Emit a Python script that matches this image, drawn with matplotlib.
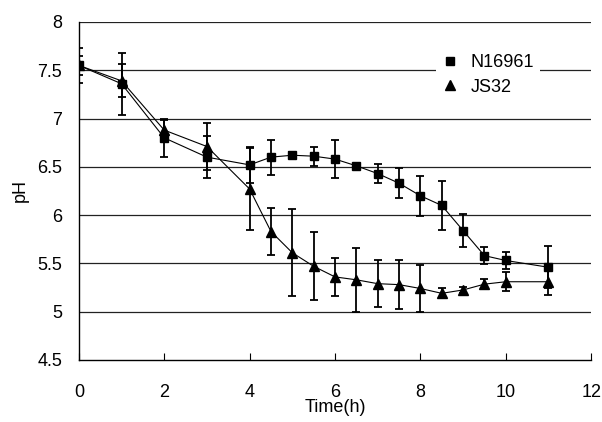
import matplotlib.pyplot as plt
from matplotlib.lines import Line2D

plt.rcParams['font.family'] = ['Liberation Sans', 'DejaVu Sans']

# data
time = [0, 1, 2, 3, 4, 4.5, 5, 5.5, 6, 6.5, 7, 7.5, 8, 8.5, 9, 9.5, 10, 11]
n16961 = [7.55, 7.36, 6.80, 6.60, 6.52, 6.60, 6.62, 6.61, 6.58, 6.51, 6.43, 6.33,
          6.20, 6.10, 5.84, 5.58, 5.53, 5.46]
n16961_err = [0.18, 0.32, 0.20, 0.22, 0.19, 0.18, 0.03, 0.10, 0.20, 0.02, 0.10, 0.155,
              0.21, 0.25, 0.17, 0.085, 0.09, 0.22]
js32 = [7.55, 7.39, 6.88, 6.71, 6.27, 5.83, 5.61, 5.47, 5.36, 5.33, 5.29, 5.28,
        5.24, 5.19, 5.225, 5.285, 5.31, 5.31]
js32_err = [0.10, 0.17, 0.10, 0.245, 0.42, 0.24, 0.45, 0.35, 0.20, 0.33, 0.24, 0.25,
            0.24, 0.05, 0.03, 0.05, 0.10, 0.14]

fig = plt.figure(figsize=(6.02, 4.22), dpi=100)
ax = fig.add_axes([0.131, 0.147, 0.851, 0.801])

# horizontal grid
for yv in [5, 5.5, 6, 6.5, 7, 7.5, 8]:
    ax.axhline(yv, color='#222222', lw=0.9, zorder=1)

ax.errorbar(time, n16961, yerr=n16961_err, color='black', lw=0.8, marker='s', ms=5.5,
            elinewidth=1.3, capsize=3, capthick=1.3, zorder=3)
ax.errorbar(time, js32, yerr=js32_err, color='black', lw=0.8, marker='^', ms=6.5,
            elinewidth=1.3, capsize=3, capthick=1.3, zorder=3)

ax.set_xlim(0, 12)
ax.set_ylim(4.5, 8)
ax.set_xticks(range(0, 13, 2))
ax.set_yticks([4.5, 5, 5.5, 6, 6.5, 7, 7.5, 8])
ax.set_yticklabels(['4.5', '5', '5.5', '6', '6.5', '7', '7.5', '8'])
ax.tick_params(axis='x', direction='in', length=5, width=0.8, pad=17, labelsize=13)
ax.tick_params(axis='y', length=0, pad=12, labelsize=13)

for s in ['top', 'right']:
    ax.spines[s].set_visible(False)
for s in ['left', 'bottom']:
    ax.spines[s].set_linewidth(1.0)

ax.set_xlabel('Time(h)', fontsize=13, labelpad=-1)
ax.set_ylabel('pH', fontsize=13, labelpad=6)

handles = [Line2D([], [], color='black', marker='s', ls='none', ms=5.5),
           Line2D([], [], color='black', marker='^', ls='none', ms=6.5)]
leg = ax.legend(handles, ['N16961', 'JS32'], loc='upper left',
                bbox_to_anchor=(0.679, 0.947), frameon=True, fancybox=False,
                edgecolor='none', facecolor='white', framealpha=1,
                fontsize=13, handlelength=1.0, handletextpad=0.65,
                labelspacing=0.4, borderpad=0.3)
leg.set_zorder(5)

fig.savefig('out.png', dpi=100)
